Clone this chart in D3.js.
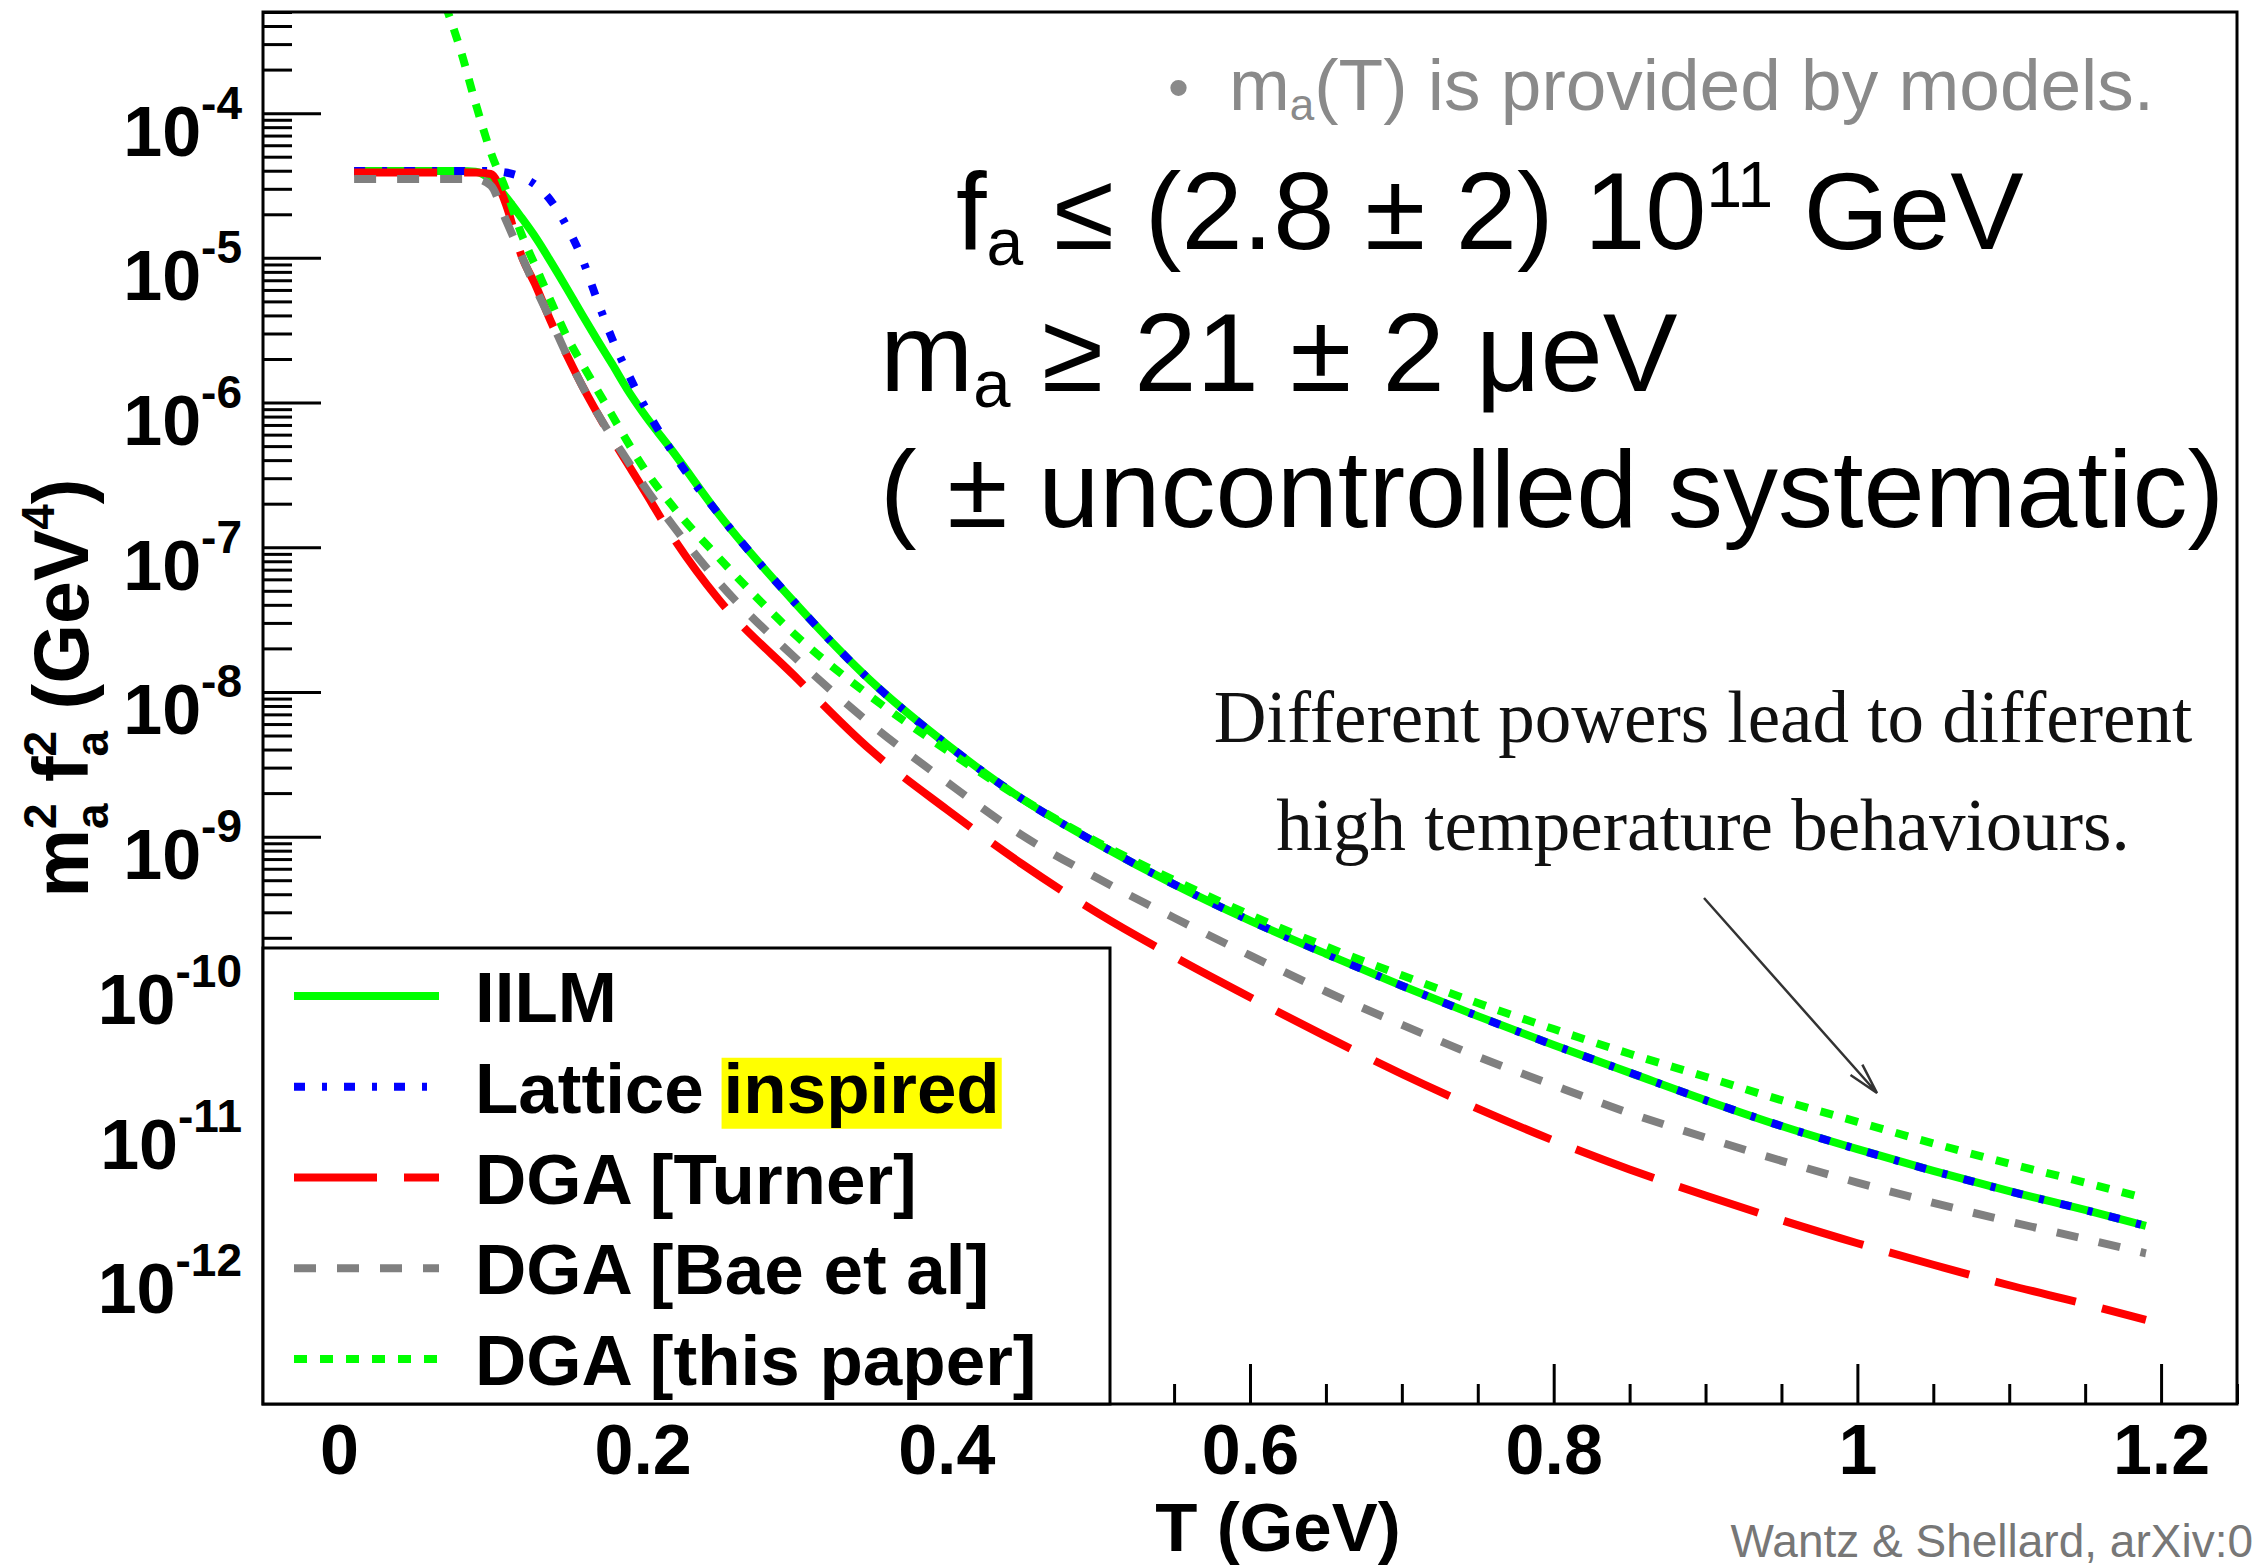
<!DOCTYPE html>
<html>
<head>
<meta charset="utf-8">
<script src="https://cdn.jsdelivr.net/npm/d3@7"></script>
<style>
  body { margin: 0; background: #fff; }
  svg { display: block; }
</style>
</head>
<body>
<div id="chart"></div>
<script>
// Page and plot frame (pixels)
let dim = { width: 2255, height: 1567 };
let frame = { left: 263, right: 2237, top: 12, bottom: 1404 };

const temps = [0.01, 0.05, 0.07, 0.08, 0.09, 0.10, 0.11, 0.12, 0.13, 0.14, 0.15, 0.16, 0.17, 0.18, 0.19, 0.20,
    0.22, 0.25, 0.30, 0.35, 0.40, 0.45, 0.50, 0.55, 0.60, 0.65, 0.70, 0.75, 0.80, 0.85, 0.90, 0.95,
    1.00, 1.05, 1.10, 1.15, 1.19];

// m_a^2 f_a^2 (GeV^4) for each model
const iilm = [3.98e-5, 3.98e-5, 3.98e-5, 3.98e-5, 3.94e-5, 3.47e-5, 2.63e-5, 1.91e-5, 1.36e-5, 9.23e-6, 6.17e-6,
    4.07e-6, 2.72e-6, 1.84e-6, 1.23e-6, 8.61e-7, 4.57e-7, 1.70e-7, 4.17e-8, 1.20e-8, 4.37e-9, 1.82e-9,
    8.91e-10, 4.68e-10, 2.63e-10, 1.55e-10, 9.33e-11, 5.75e-11, 3.63e-11, 2.34e-11, 1.51e-11, 1.00e-11,
    6.92e-12, 4.90e-12, 3.55e-12, 2.63e-12, 2.04e-12];
const lattice = [3.98e-5, 3.98e-5, 3.98e-5, 3.98e-5, 3.98e-5, 3.98e-5, 3.89e-5, 3.63e-5, 3.16e-5, 2.45e-5, 1.66e-5,
    1.00e-5, 5.13e-6, 2.75e-6, 1.62e-6, 1.00e-6, 4.47e-7, 1.70e-7, 4.17e-8, 1.20e-8, 4.37e-9, 1.82e-9,
    8.91e-10, 4.68e-10, 2.63e-10, 1.55e-10, 9.33e-11, 5.75e-11, 3.63e-11, 2.34e-11, 1.51e-11, 1.00e-11,
    6.92e-12, 4.90e-12, 3.55e-12, 2.63e-12, 2.04e-12];
const turner = [3.89e-5, 3.89e-5, 3.89e-5, 3.89e-5, 3.89e-5, 3.80e-5, 2.34e-5, 1.05e-5, 6.31e-6, 3.55e-6, 2.14e-6,
    1.32e-6, 8.51e-7, 5.62e-7, 3.80e-7, 2.57e-7, 1.17e-7, 4.37e-8, 1.29e-8, 3.98e-9, 1.55e-9, 6.46e-10,
    2.95e-10, 1.48e-10, 7.76e-11, 4.17e-11, 2.29e-11, 1.32e-11, 7.94e-12, 5.01e-12, 3.31e-12, 2.24e-12,
    1.55e-12, 1.10e-12, 7.94e-13, 5.89e-13, 4.57e-13];
const bae = [3.51e-5, 3.51e-5, 3.51e-5, 3.51e-5, 3.51e-5, 3.16e-5, 1.82e-5, 1.05e-5, 6.03e-6, 3.63e-6, 2.14e-6,
    1.32e-6, 8.51e-7, 5.75e-7, 3.98e-7, 2.75e-7, 1.41e-7, 5.75e-8, 1.74e-8, 6.03e-9, 2.40e-9, 1.02e-9,
    5.13e-10, 2.75e-10, 1.51e-10, 8.51e-11, 5.01e-11, 3.02e-11, 1.91e-11, 1.23e-11, 8.32e-12, 5.75e-12,
    4.07e-12, 2.95e-12, 2.19e-12, 1.66e-12, 1.32e-12];
const thisPaper = [null, null, 5.62e-4, 2.75e-4, 1.17e-4, 5.37e-5, 2.95e-5, 1.48e-5, 8.51e-6, 4.90e-6, 2.88e-6,
    1.86e-6, 1.23e-6, 8.13e-7, 5.37e-7, 3.63e-7, 1.91e-7, 8.51e-8, 2.51e-8, 9.33e-9, 3.98e-9, 1.82e-9,
    9.12e-10, 5.01e-10, 2.88e-10, 1.74e-10, 1.10e-10, 7.08e-11, 4.68e-11, 3.16e-11, 2.19e-11, 1.51e-11,
    1.07e-11, 7.59e-12, 5.50e-12, 4.07e-12, 3.16e-12];

const seriesNames = ['IILM', 'Lattice inspired', 'DGA [Turner]', 'DGA [Bae et al]', 'DGA [this paper]'];

// Axis ticks
const xTickValues = [0, 0.2, 0.4, 0.6, 0.8, 1, 1.2];
const xTickLabels = ['0', '0.2', '0.4', '0.6', '0.8', '1', '1.2'];
const yDecades = [-4, -5, -6, -7, -8, -9, -10, -11, -12];

// styles of each series (ROOT colours / line styles)
const series = [
    { name: seriesNames[0], values: iilm, color: '#00ff00', dash: null },
    { name: seriesNames[1], values: lattice, color: '#0000ff', dash: '11 17 5 17' },
    { name: seriesNames[2], values: turner, color: '#ff0000', dash: '83 27' },
    { name: seriesNames[3], values: bae, color: '#808080', dash: '22 21' },
    { name: seriesNames[4], values: thisPaper, color: '#00ff00', dash: '13 13' }
];

const rootFont = "'Liberation Sans', Arial, Helvetica, sans-serif";

// Scales
let x = d3.scaleLinear().domain([-0.05, 1.25]).range([frame.left, frame.right]);
let y = d3.scaleLog().domain([1.2e-13, 5e-4]).range([frame.bottom, frame.top]);

let svg = d3.select('#chart')
    .append('svg')
    .attr('width', dim.width)
    .attr('height', dim.height);

svg.append('rect').attr('width', dim.width).attr('height', dim.height).attr('fill', '#fff');

svg.append('defs').append('clipPath').attr('id', 'plot-clip')
    .append('rect')
    .attr('x', frame.left).attr('y', frame.top)
    .attr('width', frame.right - frame.left)
    .attr('height', frame.bottom - frame.top);

// Curves
let line = d3.line()
    .defined(d => d[1] != null)
    .x(d => x(d[0]))
    .y(d => y(d[1]))
    .curve(d3.curveMonotoneX);

svg.append('g')
    .attr('clip-path', 'url(#plot-clip)')
    .selectAll('path')
    .data(series)
    .join('path')
    .attr('d', s => line(temps.map((t, i) => [t, s.values[i]])))
    .attr('fill', 'none')
    .attr('stroke', s => s.color)
    .attr('stroke-width', 8)
    .attr('stroke-dasharray', s => s.dash);

// y axis: minor ticks
let yMinor = [];
d3.range(-13, -3).forEach(k => {
    [2, 3, 4, 5, 6, 7, 8, 9].forEach(m => {
        let v = m * Math.pow(10, k);
        if (v >= y.domain()[0] && v <= y.domain()[1]) yMinor.push(v);
    });
});

let gyMinor = svg.append('g')
    .attr('transform', `translate(${frame.left},0)`)
    .call(d3.axisLeft(y).tickValues(yMinor).tickSizeInner(-29).tickSizeOuter(0).tickFormat(''));
gyMinor.select('.domain').remove();

// y axis: decades with 10^k labels
let gy = svg.append('g')
    .attr('transform', `translate(${frame.left},0)`)
    .call(d3.axisLeft(y)
        .tickValues(yDecades.map(k => Math.pow(10, k)))
        .tickSizeInner(-58).tickSizeOuter(0).tickPadding(21)
        .tickFormat(''))
    .attr('font-family', rootFont)
    .attr('font-weight', 'bold')
    .attr('font-size', 70);
gy.select('.domain').remove();
gy.selectAll('.tick text')
    .attr('dy', null)
    .attr('y', 42)
    .attr('fill', '#000')
    .each(function(d, i) {
        let t = d3.select(this);
        t.append('tspan').text('10');
        t.append('tspan').attr('font-size', 46).attr('dy', -37).text(yDecades[i]);
    });

// x axis
let gxMinor = svg.append('g')
    .attr('transform', `translate(0,${frame.bottom})`)
    .call(d3.axisBottom(x)
        .tickValues(d3.range(-1, 26).map(i => i * 0.05).filter(v => Math.abs(v / 0.2 - Math.round(v / 0.2)) > 1e-6))
        .tickSizeInner(-20).tickSizeOuter(0).tickFormat(''));
gxMinor.select('.domain').remove();

let gx = svg.append('g')
    .attr('transform', `translate(0,${frame.bottom})`)
    .call(d3.axisBottom(x)
        .tickValues(xTickValues)
        .tickSizeInner(-40).tickSizeOuter(0)
        .tickFormat((d, i) => xTickLabels[i]))
    .attr('font-family', rootFont)
    .attr('font-weight', 'bold')
    .attr('font-size', 70);
gx.select('.domain').remove();
gx.selectAll('.tick text').attr('dy', null).attr('y', 70).attr('fill', '#000');

svg.selectAll('.tick line').attr('stroke', '#000').attr('stroke-width', 3);

// frame
svg.append('rect')
    .attr('x', frame.left).attr('y', frame.top)
    .attr('width', frame.right - frame.left)
    .attr('height', frame.bottom - frame.top)
    .attr('fill', 'none').attr('stroke', '#000').attr('stroke-width', 3);

// axis titles
svg.append('text')
    .attr('x', 1278).attr('y', 1551)
    .attr('text-anchor', 'middle')
    .attr('font-family', rootFont).attr('font-weight', 'bold').attr('font-size', 69)
    .text('T (GeV)');

let yTitle = svg.append('text')
    .attr('transform', 'translate(88,688) rotate(-90)')
    .attr('text-anchor', 'middle')
    .attr('font-family', rootFont).attr('font-weight', 'bold').attr('font-size', 77);
yTitle.append('tspan').text('m');
yTitle.append('tspan').attr('font-size', 46).attr('dy', -32).text('2');
yTitle.append('tspan').attr('font-size', 46).attr('dx', -25.6).attr('dy', 52).text('a');
yTitle.append('tspan').attr('dy', -20).text(' f');
yTitle.append('tspan').attr('font-size', 46).attr('dy', -32).text('2');
yTitle.append('tspan').attr('font-size', 46).attr('dx', -25.6).attr('dy', 52).text('a');
yTitle.append('tspan').attr('dy', -20).text(' (GeV');
yTitle.append('tspan').attr('font-size', 46).attr('dy', -34).text('4');
yTitle.append('tspan').attr('dy', 34).text(')');

// Legend
let legendBox = { left: frame.left, right: 1110, top: 948, bottom: frame.bottom };
let legend = svg.append('g');
legend.append('rect')
    .attr('x', legendBox.left).attr('y', legendBox.top)
    .attr('width', legendBox.right - legendBox.left)
    .attr('height', legendBox.bottom - legendBox.top)
    .attr('fill', '#fff').attr('stroke', '#000').attr('stroke-width', 3);

let rowY = d3.scalePoint().domain(seriesNames).range([996, 1359]);

let rows = legend.selectAll('g.row')
    .data(series)
    .join('g')
    .attr('class', 'row')
    .attr('transform', s => `translate(0,${rowY(s.name)})`);

rows.append('line')
    .attr('x1', 294).attr('x2', 439)
    .attr('stroke', s => s.color)
    .attr('stroke-width', 8)
    .attr('stroke-dasharray', s => s.dash);

rows.append('text')
    .attr('x', 475).attr('y', 26)
    .attr('font-family', rootFont).attr('font-weight', 'bold').attr('font-size', 71)
    .text(s => s.name)
    .each(function(s) {
        // highlight the word "inspired"
        if (s.name !== 'Lattice inspired') return;
        let i0 = s.name.indexOf('inspired');
        let x0 = this.getStartPositionOfChar(i0).x;
        let x1 = this.getEndPositionOfChar(s.name.length - 1).x;
        d3.select(this.parentNode).insert('rect', 'text')
            .attr('x', x0 - 2).attr('y', -29)
            .attr('width', x1 - x0 + 4).attr('height', 71)
            .attr('fill', '#ffff00');
    });

// Annotations (slide text)
const slideFont = "'Liberation Sans', Arial, Helvetica, sans-serif";

svg.append('text')
    .attr('x', 1168).attr('y', 108)
    .attr('font-family', slideFont).attr('font-size', 60).attr('fill', '#8a8a8a')
    .text('\u2022');

let note = svg.append('text')
    .attr('x', 1229).attr('y', 110)
    .attr('font-family', slideFont).attr('font-size', 73).attr('fill', '#8a8a8a');
note.append('tspan').text('m');
note.append('tspan').attr('font-size', 44).attr('dy', 10).text('a');
note.append('tspan').attr('dy', -10).text('(T) is provided by models.');

let fa = svg.append('text')
    .attr('x', 956).attr('y', 249)
    .attr('font-family', slideFont).attr('font-size', 110).attr('fill', '#000');
fa.append('tspan').text('f');
fa.append('tspan').attr('font-size', 66).attr('dy', 16).text('a');
fa.append('tspan').attr('dy', -16).text(' \u2264 (2.8 \u00b1 2) 10');
fa.append('tspan').attr('font-size', 64).attr('dy', -42).text('11');
fa.append('tspan').attr('dy', 42).text(' GeV');

let ma = svg.append('text')
    .attr('x', 880).attr('y', 391)
    .attr('font-family', slideFont).attr('font-size', 112).attr('fill', '#000');
ma.append('tspan').text('m');
ma.append('tspan').attr('font-size', 67).attr('dy', 16).text('a');
ma.append('tspan').attr('dy', -16).text(' \u2265 21 \u00b1 2 \u03bceV');

svg.append('text')
    .attr('x', 880).attr('y', 527)
    .attr('font-family', slideFont).attr('font-size', 110).attr('fill', '#000')
    .text('( \u00b1 uncontrolled systematic)');

// Comment on the tails
let comment = svg.append('text')
    .attr('text-anchor', 'middle')
    .attr('font-family', "'Liberation Serif', 'Times New Roman', serif")
    .attr('font-size', 73).attr('fill', '#111');
comment.append('tspan').attr('x', 1703).attr('y', 742).text('Different powers lead to different');
comment.append('tspan').attr('x', 1703).attr('y', 850).text('high temperature behaviours.');

// arrow
let a0 = [1704, 898], a1 = [1877, 1093];
let ang = Math.atan2(a1[1] - a0[1], a1[0] - a0[0]);
let head = [ang + Math.PI - 0.25, ang + Math.PI + 0.25].map(a => [a1[0] + 32 * Math.cos(a), a1[1] + 32 * Math.sin(a)]);
svg.append('path')
    .attr('d', `M${a0}L${a1}M${head[0]}L${a1}L${head[1]}`)
    .attr('fill', 'none').attr('stroke', '#333').attr('stroke-width', 2.5);

// credit (cut at the page edge in the original slide)
svg.append('text')
    .attr('x', 2253).attr('y', 1557)
    .attr('text-anchor', 'end')
    .attr('font-family', slideFont).attr('font-size', 46).attr('fill', '#777')
    .text('Wantz & Shellard, arXiv:0');
</script>
</body>
</html>
